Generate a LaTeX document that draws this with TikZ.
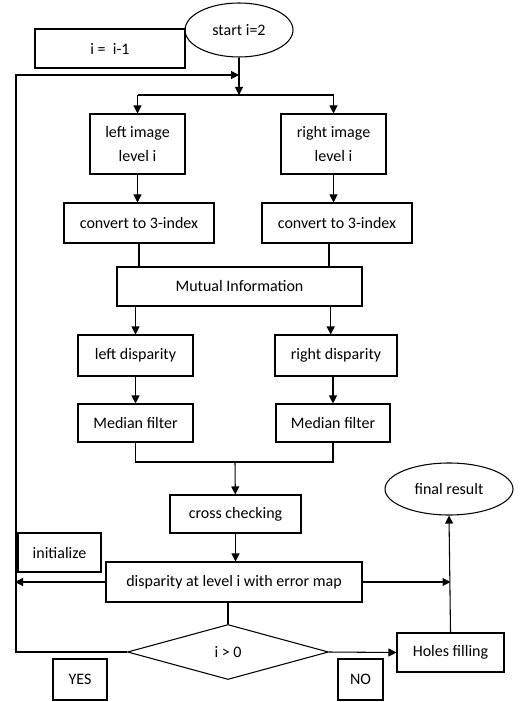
\documentclass[tikz,border=0pt]{standalone}
\usepackage{fontspec}
\setmainfont{Carlito}
\usetikzlibrary{shapes.geometric, arrows.meta, positioning}
\tikzset{
    base/.style={draw=black, line width=0.8pt, font=\fontsize{12}{18}\selectfont, align=center, inner sep=2pt},
    block/.style={base, rectangle},
    oval/.style={base, ellipse},
    decision/.style={base, diamond},
    line/.style={draw=black, line width=0.8pt, -{Triangle[length=6pt, width=6pt]}},
    plain-line/.style={draw=black, line width=0.8pt}
}

\begin{document}
\begin{tikzpicture}[x=0.75pt, y=-0.75pt]
    \useasboundingbox (0,0) rectangle (525,702);

    \node [oval, minimum width=81pt, minimum height=40.5pt] (Start) at (239,30) {start i=2};
    \node [block, minimum width=112.5pt, minimum height=29.25pt] (Dec) at (110,48.5) {i =\ \ i-1};

    \node [block, minimum width=71.25pt, minimum height=45pt] (LImg) at (137.5,144) {left image\\level i};
    \node [block, minimum width=78.75pt, minimum height=45pt] (RImg) at (333.5,144) {right image\\level i};
    \node [block, minimum width=112.5pt, minimum height=30pt] (LConv) at (139,223) {convert to 3-index};
    \node [block, minimum width=112.5pt, minimum height=30pt] (RConv) at (337,223) {convert to 3-index};
    \node [block, minimum width=183.75pt, minimum height=29.25pt] (MI) at (239.5,286.5) {Mutual Information};
    \node [block, minimum width=86.25pt, minimum height=30.75pt] (LDisp) at (135.5,355.5) {left disparity};
    \node [block, minimum width=91.5pt, minimum height=30.75pt] (RDisp) at (336,355.5) {right disparity};
    \node [block, minimum width=86.25pt, minimum height=28.5pt] (LMed) at (135.5,423) {Median filter};
    \node [block, minimum width=85.5pt, minimum height=28.5pt] (RMed) at (333,423) {Median filter};
    \node [block, minimum width=98.25pt, minimum height=28.5pt] (Cross) at (235.5,514) {cross checking};
    \node [block, minimum width=62.25pt, minimum height=29.25pt] (Init) at (59.5,552.5) {initialize};
    \node [block, minimum width=192pt, minimum height=30pt] (Disp) at (234,582) {disparity at level i with error map};
    \node [decision, minimum width=150.75pt, minimum height=41.25pt, inner sep=0pt] (Dia) at (228,652) {i > 0};
    \node [block, minimum width=80.25pt, minimum height=29.25pt] (Holes) at (450.5,652.5) {Holes filling};
    \node [oval, minimum width=96pt, minimum height=39pt] (Final) at (449,489) {final result};
    \node [block, minimum width=40.5pt, minimum height=30.75pt] (Yes) at (80,679.5) {YES};
    \node [block, minimum width=33.75pt, minimum height=30.75pt] (No) at (360.5,679.5) {NO};

    \coordinate (Split) at (239,95);
    \coordinate (LoopTop) at (239,75);
    \coordinate (LoopCorner) at (16,75);
    \coordinate (Merge) at (235,462);
    \coordinate (LeftEnd) at (15,582);
    \coordinate (RightEnd) at (Holes.north |- Disp.east);

    \draw [line] (Start) -- (Split);
    \draw [plain-line] (Split -| LImg) -- (Split -| RImg);
    \draw [line] (Split -| LImg) -- (LImg);
    \draw [line] (Split -| RImg) -- (RImg);
    \draw [line] (LImg) -- (LImg |- LConv.north);
    \draw [line] (RImg) -- (RImg |- RConv.north);
    \draw [plain-line] (LConv.south) -- (LConv.south |- MI.north);
    \draw [plain-line] ([xshift=-6pt]RConv.south) -- ([xshift=-6pt]RConv.south |- MI.north);
    \draw [line] (LDisp.north |- MI.south) -- (LDisp.north);
    \draw [line] ([xshift=-4pt]RDisp.north |- MI.south) -- ([xshift=-4pt]RDisp.north);
    \draw [line] (LDisp) -- (LMed);
    \draw [line] (RMed.north |- RDisp.south) -- (RMed.north);
    \draw [plain-line] (LMed.south) -- (LMed.south |- Merge) -- (RMed.south |- Merge) -- (RMed.south);
    \draw [line] (Merge) -- (Cross);
    \draw [line] (Cross) -- (Cross |- Disp.north);
    \draw [line] (Disp.west) -- (LeftEnd);
    \draw [line] (Disp.east) -- (RightEnd);
    \draw [plain-line] (Dia.north |- Disp.south) -- (Dia.north);
    \draw [line] (Dia.west) -| (LoopCorner) -- (LoopTop);
    \draw [line] (Dia.east) -- (Holes.west);
    \draw [line] (Holes.north) -- (Final.south);
\end{tikzpicture}
\end{document}
